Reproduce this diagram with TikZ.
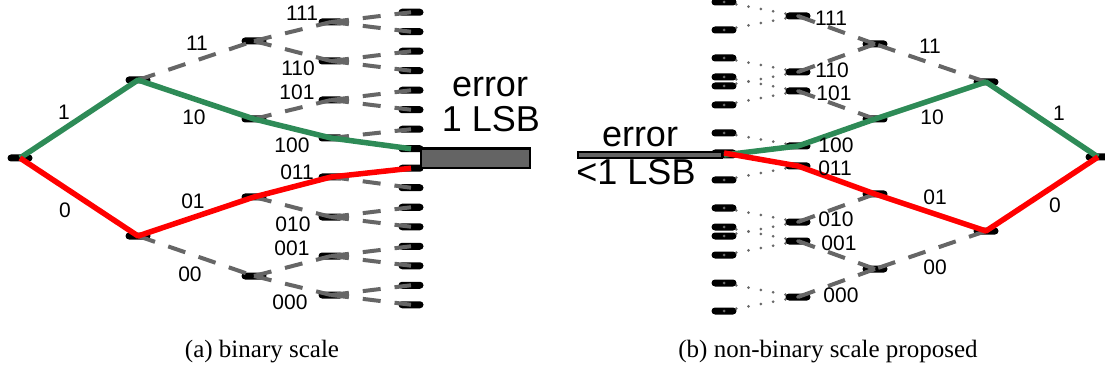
\documentclass[tikz,border=0pt]{standalone}
\usepackage{fontspec}
\setmainfont{Liberation Serif}
\newfontfamily\labfont{Liberation Sans}
\definecolor{pathgreen}{RGB}{46,139,87}
\definecolor{dashgray}{RGB}{102,102,102}
\definecolor{dotgray}{RGB}{105,105,105}
\definecolor{boxgray}{RGB}{100,100,100}
\tikzset{
  mk/.style={rectangle, rounded corners=3.5pt, minimum width=25pt, minimum height=7pt, inner sep=0pt, fill=black},
  dsh/.style={draw=dashgray, line width=4pt, dash pattern=on 18pt off 14pt},
  dtd/.style={draw=dotgray, line width=3pt, line cap=round, dash pattern=on 0pt off 12.5pt},
  grn/.style={draw=pathgreen, line width=5.5pt, line join=round},
  rdp/.style={draw=red, line width=5.5pt, line join=round},
  lbl/.style={font=\labfont\fontsize{21}{24}\selectfont, inner sep=0pt},
  big/.style={font=\labfont\fontsize{36}{40}\selectfont, inner sep=0pt, anchor=base},
  captxt/.style={font=\fontsize{25}{30}\selectfont, inner sep=0pt}
}
\begin{document}
\begin{tikzpicture}[x=1pt,y=-1pt]
\useasboundingbox (0,0) rectangle (1105,374);
% ---------------- (a) binary scale ----------------
\node[mk] (a) at (20,158) {};
\node[mk] (a1) at (138,80) {};
\node[mk] (a0) at (138,236) {};
\node[mk] (a11) at (254,41) {};
\node[mk] (a10) at (254,119) {};
\node[mk] (a01) at (254,197) {};
\node[mk] (a00) at (254,276) {};
\node[mk] (a111) at (331,22) {};
\node[mk] (a110) at (331,61) {};
\node[mk] (a101) at (331,100) {};
\node[mk] (a100) at (331,138) {};
\node[mk] (a011) at (331,177) {};
\node[mk] (a010) at (331,217) {};
\node[mk] (a001) at (331,256) {};
\node[mk] (a000) at (331,295) {};
\foreach \k in {1,...,16} {
  \node[mk] (la\k) at (411,{12.25+19.5*(\k-1)}) {};
}
% dashed edges
\draw[dsh] (a1.center) -- (a11.center);
\draw[dsh] (a0.center) -- (a00.center);
\draw[dsh] (a11.center) -- (a111.center);
\draw[dsh] (a11.center) -- (a110.center);
\draw[dsh] (a10.center) -- (a101.center);
\draw[dsh] (a01.center) -- (a010.center);
\draw[dsh] (a00.center) -- (a001.center);
\draw[dsh] (a00.center) -- (a000.center);
\draw[dsh] (a111.center) -- (la1.center);
\draw[dsh] (a111.center) -- (la2.center);
\draw[dsh] (a110.center) -- (la3.center);
\draw[dsh] (a110.center) -- (la4.center);
\draw[dsh] (a101.center) -- (la5.center);
\draw[dsh] (a101.center) -- (la6.center);
\draw[dsh] (a100.center) -- (la7.center);
\draw[dsh] (a011.center) -- (la10.center);
\draw[dsh] (a010.center) -- (la11.center);
\draw[dsh] (a010.center) -- (la12.center);
\draw[dsh] (a001.center) -- (la13.center);
\draw[dsh] (a001.center) -- (la14.center);
\draw[dsh] (a000.center) -- (la15.center);
\draw[dsh] (a000.center) -- (la16.center);
% error box
\node[draw=black, line width=2.5pt, fill=boxgray, minimum width=109pt, minimum height=19.5pt, inner sep=0pt] (ebox) at (475.5,158.5) {};
% coloured paths
\draw[grn] (a.center) -- (a1.center) -- (a10.center) -- (a100.center) -- (la8.center);
\draw[rdp] (a.center) -- (a0.center) -- (a01.center) -- (a011.center) -- (la9.center);
% labels
\node[lbl] (ta1) at (64,112) {1};
\node[lbl] (ta0) at (65,210) {0};
\node[lbl] (ta11) at (197,43) {11};
\node[lbl] (ta10) at (194,117) {10};
\node[lbl] (ta01) at (193,201) {01};
\node[lbl] (ta00) at (190,274) {00};
\node[lbl] (ta111) at (302,13) {111};
\node[lbl] (ta110) at (298,68) {110};
\node[lbl] (ta101) at (297,92) {101};
\node[lbl] (ta100) at (292,145) {100};
\node[lbl] (ta011) at (297,172) {011};
\node[lbl] (ta010) at (293,224) {010};
\node[lbl] (ta001) at (292,248) {001};
\node[lbl] (ta000) at (290,302) {000};
\node[big] (eta) at (490,97) {error};
\node[big] (etb) at (491,132) {1 LSB};
% ---------------- (b) non-binary scale ----------------
\node[mk] (b) at (1098,157) {};
\node[mk] (b1) at (986,82) {};
\node[mk] (b0) at (986,231) {};
\node[mk] (b11) at (875,44) {};
\node[mk] (b10) at (875,119) {};
\node[mk] (b01) at (875,194) {};
\node[mk] (b00) at (875,269) {};
\node[mk] (b111) at (798,16) {};
\node[mk] (b110) at (798,72) {};
\node[mk] (b101) at (798,91) {};
\node[mk] (b100) at (798,146) {};
\node[mk] (b011) at (798,166) {};
\node[mk] (b010) at (798,222) {};
\node[mk] (b001) at (798,241) {};
\node[mk] (b000) at (798,297) {};
\foreach \n/\y in {1/2,2/30,3/58,4/86,5/77,6/105,7/133,8/155,9/153,10/180,11/208,12/236,13/227,14/255,15/283,16/311} {
  \node[mk] (lb\n) at (724,\y) {};
}
% error bar
\node[draw=black, line width=1.5pt, fill=boxgray, minimum width=144pt, minimum height=6pt, inner sep=0pt] (ebar) at (650,155) {};
% dashed edges
\draw[dsh] (b1.center) -- (b11.center);
\draw[dsh] (b0.center) -- (b00.center);
\draw[dsh] (b11.center) -- (b111.center);
\draw[dsh] (b11.center) -- (b110.center);
\draw[dsh] (b10.center) -- (b101.center);
\draw[dsh] (b01.center) -- (b010.center);
\draw[dsh] (b00.center) -- (b001.center);
\draw[dsh] (b00.center) -- (b000.center);
% dotted edges
\draw[dtd] (lb1.center) -- (b111.center);
\draw[dtd] (lb2.center) -- (b111.center);
\draw[dtd] (lb3.center) -- (b110.center);
\draw[dtd] (lb4.center) -- (b110.center);
\draw[dtd] (lb5.center) -- (b101.center);
\draw[dtd] (lb6.center) -- (b101.center);
\draw[dtd] (lb7.center) -- (b100.center);
\draw[dtd] (lb10.center) -- (b011.center);
\draw[dtd] (lb11.center) -- (b010.center);
\draw[dtd] (lb12.center) -- (b010.center);
\draw[dtd] (lb13.center) -- (b001.center);
\draw[dtd] (lb14.center) -- (b001.center);
\draw[dtd] (lb15.center) -- (b000.center);
\draw[dtd] (lb16.center) -- (b000.center);
% coloured paths
\draw[grn] (b.center) -- (b1.center) -- (b10.center) -- (b100.center) -- (lb8.center);
\draw[rdp] (b.center) -- (b0.center) -- (b01.center) -- (b011.center) -- (lb9.center);
% labels
\node[lbl] (tb1) at (1059,113) {1};
\node[lbl] (tb0) at (1055,205) {0};
\node[lbl] (tb11) at (930,46) {11};
\node[lbl] (tb10) at (932,117) {10};
\node[lbl] (tb01) at (935,197) {01};
\node[lbl] (tb00) at (935,267) {00};
\node[lbl] (tb111) at (831,18) {111};
\node[lbl] (tb110) at (832,70) {110};
\node[lbl] (tb101) at (834,93) {101};
\node[lbl] (tb100) at (836,145) {100};
\node[lbl] (tb011) at (835,168) {011};
\node[lbl] (tb010) at (836,219) {010};
\node[lbl] (tb001) at (839,243) {001};
\node[lbl] (tb000) at (841,295) {000};
\node[big] (etc) at (640,147) {error};
\node[big] (etd) at (636,185) {<1 LSB};
% captions
\node[captxt] (capa) at (262,352) {(a) binary scale};
\node[captxt] (capb) at (828,352) {(b) non-binary scale proposed};
\end{tikzpicture}
\end{document}
